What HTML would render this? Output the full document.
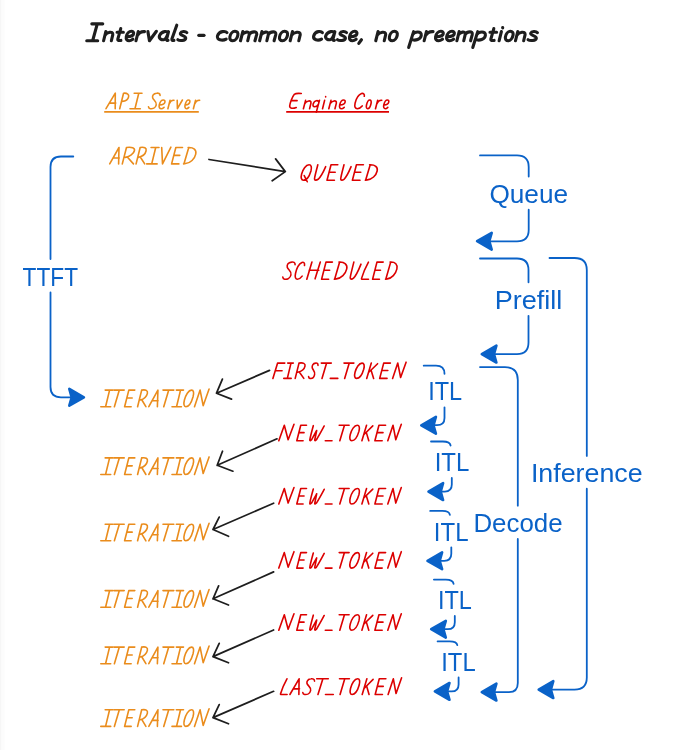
<!DOCTYPE html>
<html><head><meta charset="utf-8"><style>html,body{margin:0;padding:0;background:#fff;}svg{display:block}</style></head>
<body><svg width="679" height="750" viewBox="0 0 679 750" style="will-change:transform">
<rect width="679" height="750" fill="#fff"/>
<rect x="0" y="0" width="1.5" height="750" fill="#f6f6f6"/><rect x="1.5" y="0" width="3" height="750" fill="#fcfcfc"/>
<text transform="matrix(0.22708 0 0 0.26232 22.55 285.80)" font-family="Liberation Sans, sans-serif" font-weight="normal" font-style="normal" font-size="100" fill="#0a62c8">TTFT</text>
<text transform="matrix(0.26220 0 0 0.26522 489.39 202.90)" font-family="Liberation Sans, sans-serif" font-weight="normal" font-style="normal" font-size="100" fill="#0a62c8">Queue</text>
<text transform="matrix(0.27064 0 0 0.26087 494.63 308.60)" font-family="Liberation Sans, sans-serif" font-weight="normal" font-style="normal" font-size="100" fill="#0a62c8">Prefill</text>
<text transform="matrix(0.23485 0 0 0.25507 428.19 400.10)" font-family="Liberation Sans, sans-serif" font-weight="normal" font-style="normal" font-size="100" fill="#0a62c8">ITL</text>
<text transform="matrix(0.24015 0 0 0.25942 434.64 471.20)" font-family="Liberation Sans, sans-serif" font-weight="normal" font-style="normal" font-size="100" fill="#0a62c8">ITL</text>
<text transform="matrix(0.24015 0 0 0.26087 433.84 540.70)" font-family="Liberation Sans, sans-serif" font-weight="normal" font-style="normal" font-size="100" fill="#0a62c8">ITL</text>
<text transform="matrix(0.23485 0 0 0.25797 437.89 609.00)" font-family="Liberation Sans, sans-serif" font-weight="normal" font-style="normal" font-size="100" fill="#0a62c8">ITL</text>
<text transform="matrix(0.23788 0 0 0.26232 441.26 670.80)" font-family="Liberation Sans, sans-serif" font-weight="normal" font-style="normal" font-size="100" fill="#0a62c8">ITL</text>
<text transform="matrix(0.25873 0 0 0.25797 473.43 532.10)" font-family="Liberation Sans, sans-serif" font-weight="normal" font-style="normal" font-size="100" fill="#0a62c8">Decode</text>
<text transform="matrix(0.26799 0 0 0.26667 530.89 482.20)" font-family="Liberation Sans, sans-serif" font-weight="normal" font-style="normal" font-size="100" fill="#0a62c8">Inference</text>
<g transform="matrix(0.21042 0 -0.03382 0.16909 86.75 40.75)" fill="none" stroke="#1e1e1e" stroke-width="3.1" stroke-linecap="round" stroke-linejoin="round"><path transform="translate(0 0)" d="M8 -100 H60 M34 -100 L28 0 M0 0 H52" vector-effect="non-scaling-stroke"/><path transform="translate(80 0)" d="M2 -54 L0 0 M1 -32 C8 -50 36 -60 38 -36 L37 0" vector-effect="non-scaling-stroke"/><path transform="translate(136 0)" d="M14 -72 L10 -8 C10 -2 16 0 26 -2 M0 -50 H30" vector-effect="non-scaling-stroke"/><path transform="translate(184 0)" d="M3.2 -24 C16 -24 32 -30 32 -42 C32 -52 25.6 -56 19.2 -56 C8 -56 0 -42 0 -24 C0 -8 8 0 17.6 0 C24 0 28.8 -4 33.6 -9" vector-effect="non-scaling-stroke"/><path transform="translate(234 0)" d="M2 -54 L0 0 M1 -30 C6 -46 16 -56 32 -54" vector-effect="non-scaling-stroke"/><path transform="translate(282 0)" d="M0 -54 L16 0 L40 -56" vector-effect="non-scaling-stroke"/><path transform="translate(338 0)" d="M42 -46 C36 -58 10 -60 3 -32 C0 -10 20 -2 30 -8 C38 -14 40 -30 42 -54 L40 -10 C40 -2 44 0 48 -2" vector-effect="non-scaling-stroke"/><path transform="translate(400 0)" d="M13 -92 L3 -10 C3 -2 8 0 14 -2" vector-effect="non-scaling-stroke"/><path transform="translate(432 0)" d="M36 -48 C28 -58 8 -58 6 -44 C5 -30 36 -30 36 -14 C36 0 10 2 0 -6" vector-effect="non-scaling-stroke"/></g>
<g transform="matrix(0.20385 0 -0.03382 0.16909 197.67 40.75)" fill="none" stroke="#1e1e1e" stroke-width="3.1" stroke-linecap="round" stroke-linejoin="round"><path transform="translate(0 0)" d="M0 -32 H26" vector-effect="non-scaling-stroke"/></g>
<g transform="matrix(0.23311 0 -0.03382 0.16909 216.04 40.75)" fill="none" stroke="#1e1e1e" stroke-width="3.1" stroke-linecap="round" stroke-linejoin="round"><path transform="translate(0 0)" d="M40 -48 C33 -58 5 -60 2 -30 C0 -5 28 2 42 -10" vector-effect="non-scaling-stroke"/><path transform="translate(56 0)" d="M17.2 -56 C6.2 -56 0 -40 0 -24 C0 -8 7.8 0 15.6 0 C26.5 0 32.8 -16 32.8 -32 C32.8 -48 26.5 -56 17.2 -56 Z" vector-effect="non-scaling-stroke"/><path transform="translate(105 0)" d="M2 -54 L0 0 M1 -34 C6 -52 30 -60 32 -38 L31 0 M32 -38 C38 -56 64 -60 64 -36 L62 0" vector-effect="non-scaling-stroke"/><path transform="translate(187 0)" d="M2 -54 L0 0 M1 -34 C6 -52 30 -60 32 -38 L31 0 M32 -38 C38 -56 64 -60 64 -36 L62 0" vector-effect="non-scaling-stroke"/><path transform="translate(269 0)" d="M17.2 -56 C6.2 -56 0 -40 0 -24 C0 -8 7.8 0 15.6 0 C26.5 0 32.8 -16 32.8 -32 C32.8 -48 26.5 -56 17.2 -56 Z" vector-effect="non-scaling-stroke"/><path transform="translate(318 0)" d="M2 -54 L0 0 M1 -32 C8 -50 36 -60 38 -36 L37 0" vector-effect="non-scaling-stroke"/></g>
<g transform="matrix(0.21192 0 -0.03382 0.16909 312.29 40.75)" fill="none" stroke="#1e1e1e" stroke-width="3.1" stroke-linecap="round" stroke-linejoin="round"><path transform="translate(0 0)" d="M40 -48 C33 -58 5 -60 2 -30 C0 -5 28 2 42 -10" vector-effect="non-scaling-stroke"/><path transform="translate(56 0)" d="M42 -46 C36 -58 10 -60 3 -32 C0 -10 20 -2 30 -8 C38 -14 40 -30 42 -54 L40 -10 C40 -2 44 0 48 -2" vector-effect="non-scaling-stroke"/><path transform="translate(118 0)" d="M36 -48 C28 -58 8 -58 6 -44 C5 -30 36 -30 36 -14 C36 0 10 2 0 -6" vector-effect="non-scaling-stroke"/><path transform="translate(172 0)" d="M3.2 -24 C16 -24 32 -30 32 -42 C32 -52 25.6 -56 19.2 -56 C8 -56 0 -42 0 -24 C0 -8 8 0 17.6 0 C24 0 28.8 -4 33.6 -9" vector-effect="non-scaling-stroke"/><path transform="translate(222 0)" d="M9 -6 L0 16" vector-effect="non-scaling-stroke"/></g>
<g transform="matrix(0.22959 0 -0.03382 0.16909 375.75 40.75)" fill="none" stroke="#1e1e1e" stroke-width="3.1" stroke-linecap="round" stroke-linejoin="round"><path transform="translate(0 0)" d="M2 -54 L0 0 M1 -32 C8 -50 36 -60 38 -36 L37 0" vector-effect="non-scaling-stroke"/><path transform="translate(56 0)" d="M17.2 -56 C6.2 -56 0 -40 0 -24 C0 -8 7.8 0 15.6 0 C26.5 0 32.8 -16 32.8 -32 C32.8 -48 26.5 -56 17.2 -56 Z" vector-effect="non-scaling-stroke"/></g>
<g transform="matrix(0.22113 0 -0.03382 0.16909 410.89 40.75)" fill="none" stroke="#1e1e1e" stroke-width="3.1" stroke-linecap="round" stroke-linejoin="round"><path transform="translate(0 0)" d="M4 -54 L-4 40 M2 -36 C8 -56 40 -60 42 -32 C44 -8 20 2 0 -8" vector-effect="non-scaling-stroke"/><path transform="translate(60 0)" d="M2 -54 L0 0 M1 -30 C6 -46 16 -56 32 -54" vector-effect="non-scaling-stroke"/><path transform="translate(108 0)" d="M3.2 -24 C16 -24 32 -30 32 -42 C32 -52 25.6 -56 19.2 -56 C8 -56 0 -42 0 -24 C0 -8 8 0 17.6 0 C24 0 28.8 -4 33.6 -9" vector-effect="non-scaling-stroke"/><path transform="translate(158 0)" d="M3.2 -24 C16 -24 32 -30 32 -42 C32 -52 25.6 -56 19.2 -56 C8 -56 0 -42 0 -24 C0 -8 8 0 17.6 0 C24 0 28.8 -4 33.6 -9" vector-effect="non-scaling-stroke"/><path transform="translate(208 0)" d="M2 -54 L0 0 M1 -34 C6 -52 30 -60 32 -38 L31 0 M32 -38 C38 -56 64 -60 64 -36 L62 0" vector-effect="non-scaling-stroke"/><path transform="translate(290 0)" d="M4 -54 L-4 40 M2 -36 C8 -56 40 -60 42 -32 C44 -8 20 2 0 -8" vector-effect="non-scaling-stroke"/><path transform="translate(350 0)" d="M14 -72 L10 -8 C10 -2 16 0 26 -2 M0 -50 H30" vector-effect="non-scaling-stroke"/><path transform="translate(398 0)" d="M3 -54 L1 0 M5 -78 L5.5 -76" vector-effect="non-scaling-stroke"/><path transform="translate(424 0)" d="M17.2 -56 C6.2 -56 0 -40 0 -24 C0 -8 7.8 0 15.6 0 C26.5 0 32.8 -16 32.8 -32 C32.8 -48 26.5 -56 17.2 -56 Z" vector-effect="non-scaling-stroke"/><path transform="translate(473 0)" d="M2 -54 L0 0 M1 -32 C8 -50 36 -60 38 -36 L37 0" vector-effect="non-scaling-stroke"/><path transform="translate(529 0)" d="M36 -48 C28 -58 8 -58 6 -44 C5 -30 36 -30 36 -14 C36 0 10 2 0 -6" vector-effect="non-scaling-stroke"/></g>
<g fill="none" stroke="#ea8c1c" stroke-width="1.6" stroke-linecap="round" stroke-linejoin="round"><path transform="matrix(0.15875 0 -0.03410 0.15500 106.00 108.70)" d="M0 0 L37 -100 L58 0 M14 -36 H54" vector-effect="non-scaling-stroke"/><path transform="matrix(0.14344 0 -0.03410 0.15500 119.70 108.70)" d="M3 -100 L0 0 M3 -100 C30 -102 44 -92 44 -76 C44 -58 25 -48 6 -47" vector-effect="non-scaling-stroke"/><path transform="matrix(0.17044 0 -0.03410 0.15500 130.00 108.70)" d="M4.5 -100 H50.4 M31.4 -100 L29.1 0 M0 0 H60.5" vector-effect="non-scaling-stroke"/><path transform="matrix(0.18221 0 -0.03410 0.15500 148.09 108.70)" d="M50 -85 C48 -98 38 -102 28 -100 C12 -98 6 -85 12 -70 C18 -55 40 -48 40 -25 C40 -5 25 2 12 0 C6 -1 2 -6 0 -12" vector-effect="non-scaling-stroke"/><path transform="matrix(0.15813 0 -0.03410 0.15500 158.43 108.70)" d="M3.2 -24 C16 -24 32 -30 32 -42 C32 -52 25.6 -56 19.2 -56 C8 -56 0 -42 0 -24 C0 -8 8 0 17.6 0 C24 0 28.8 -4 33.6 -9" vector-effect="non-scaling-stroke"/><path transform="matrix(0.12996 0 -0.03410 0.15500 167.90 108.70)" d="M2 -54 L0 0 M1 -30 C6 -46 16 -56 32 -54" vector-effect="non-scaling-stroke"/><path transform="matrix(0.12829 0 -0.03410 0.15500 175.36 108.70)" d="M0 -54 L16 0 L40 -56" vector-effect="non-scaling-stroke"/><path transform="matrix(0.12875 0 -0.03410 0.15500 184.26 108.70)" d="M3.2 -24 C16 -24 32 -30 32 -42 C32 -52 25.6 -56 19.2 -56 C8 -56 0 -42 0 -24 C0 -8 8 0 17.6 0 C24 0 28.8 -4 33.6 -9" vector-effect="non-scaling-stroke"/><path transform="matrix(0.13621 0 -0.03410 0.15500 193.40 108.70)" d="M2 -54 L0 0 M1 -30 C6 -46 16 -56 32 -54" vector-effect="non-scaling-stroke"/></g>
<g fill="none" stroke="#dc0000" stroke-width="1.6" stroke-linecap="round" stroke-linejoin="round"><path transform="matrix(0.16418 0 -0.03410 0.15500 288.76 108.70)" d="M56 -98 C40 -100 22 -100 14 -92 C4 -75 0 -35 2 -18 C4 -2 25 2 44 -8 M8 -52 H40" vector-effect="non-scaling-stroke"/><path transform="matrix(0.16684 0 -0.03410 0.15500 303.40 108.70)" d="M2 -54 L0 0 M1 -32 C8 -50 36 -60 38 -36 L37 0" vector-effect="non-scaling-stroke"/><path transform="matrix(0.14510 0 -0.03410 0.15500 311.85 108.70)" d="M38 -42 C32 -56 4 -58 2 -30 C0 -8 28 -6 38 -28 M40 -54 L36 22" vector-effect="non-scaling-stroke"/><path transform="matrix(0.11625 0 -0.03410 0.15500 322.42 108.70)" d="M3 -54 L1 0 M5 -78 L5.5 -76" vector-effect="non-scaling-stroke"/><path transform="matrix(0.16684 0 -0.03410 0.15500 328.80 108.70)" d="M2 -54 L0 0 M1 -32 C8 -50 36 -60 38 -36 L37 0" vector-effect="non-scaling-stroke"/><path transform="matrix(0.15162 0 -0.03410 0.15500 338.84 108.70)" d="M3.2 -24 C16 -24 32 -30 32 -42 C32 -52 25.6 -56 19.2 -56 C8 -56 0 -42 0 -24 C0 -8 8 0 17.6 0 C24 0 28.8 -4 33.6 -9" vector-effect="non-scaling-stroke"/><path transform="matrix(0.15389 0 -0.03410 0.15500 353.88 108.70)" d="M50 -80 C50 -95 38 -102 28 -98 C10 -90 0 -60 0 -35 C0 -10 10 0 22 0 C35 0 44 -8 50 -18" vector-effect="non-scaling-stroke"/><path transform="matrix(0.12895 0 -0.03410 0.15500 365.67 108.70)" d="M17.2 -56 C6.2 -56 0 -40 0 -24 C0 -8 7.8 0 15.6 0 C26.5 0 32.8 -16 32.8 -32 C32.8 -48 26.5 -56 17.2 -56 Z" vector-effect="non-scaling-stroke"/><path transform="matrix(0.13621 0 -0.03410 0.15500 375.50 108.70)" d="M2 -54 L0 0 M1 -30 C6 -46 16 -56 32 -54" vector-effect="non-scaling-stroke"/><path transform="matrix(0.13532 0 -0.03410 0.15500 382.95 108.70)" d="M3.2 -24 C16 -24 32 -30 32 -42 C32 -52 25.6 -56 19.2 -56 C8 -56 0 -42 0 -24 C0 -8 8 0 17.6 0 C24 0 28.8 -4 33.6 -9" vector-effect="non-scaling-stroke"/></g>
<g fill="none" stroke="#ea8c1c" stroke-width="1.6" stroke-linecap="round" stroke-linejoin="round"><path transform="matrix(0.15372 0 -0.03608 0.16400 109.70 163.90)" d="M0 0 L37 -100 L58 0 M14 -36 H54" vector-effect="non-scaling-stroke"/><path transform="matrix(0.19237 0 -0.03608 0.16400 122.30 163.90)" d="M3 -100 L0 0 M3 -100 C30 -104 48 -98 48 -80 C48 -62 30 -45 8 -40 M18 -42 L58 0" vector-effect="non-scaling-stroke"/><path transform="matrix(0.14813 0 -0.03608 0.16400 136.10 163.90)" d="M3 -100 L0 0 M3 -100 C30 -104 48 -98 48 -80 C48 -62 30 -45 8 -40 M18 -42 L58 0" vector-effect="non-scaling-stroke"/><path transform="matrix(0.17246 0 -0.03608 0.16400 146.70 163.90)" d="M4.5 -100 H50.4 M31.4 -100 L29.1 0 M0 0 H60.5" vector-effect="non-scaling-stroke"/><path transform="matrix(0.16300 0 -0.03608 0.16400 158.09 163.90)" d="M0 -100 L27.2 0 L56 -102" vector-effect="non-scaling-stroke"/><path transform="matrix(0.15852 0 -0.03608 0.16400 171.28 163.90)" d="M48 -100 H6 L2 0 H48 M4 -52 H42" vector-effect="non-scaling-stroke"/><path transform="matrix(0.15586 0 -0.03608 0.16400 183.91 163.90)" d="M8 -100 L0 0 M4 -100 C40 -102 62 -85 62 -60 C62 -30 40 -5 10 -2 L-2 0" vector-effect="non-scaling-stroke"/></g>
<g fill="none" stroke="#dc0000" stroke-width="1.6" stroke-linecap="round" stroke-linejoin="round"><path transform="matrix(0.16259 0 -0.03388 0.15400 300.12 180.20)" d="M34 -100 C14 -100 2 -70 1 -40 C0 -15 8 0 20 0 C40 0 52 -30 54 -60 C55 -85 48 -100 34 -100 Z M19 -30 L46 10" vector-effect="non-scaling-stroke"/><path transform="matrix(0.18456 0 -0.03388 0.15400 313.86 180.20)" d="M3 -100 C2 -60 0 -25 2 -8 C4 2 14 2 22 -6 C34 -20 42 -55 48 -88" vector-effect="non-scaling-stroke"/><path transform="matrix(0.16113 0 -0.03388 0.15400 326.68 180.20)" d="M48 -100 H6 L2 0 H48 M4 -52 H42" vector-effect="non-scaling-stroke"/><path transform="matrix(0.16717 0 -0.03388 0.15400 340.09 180.20)" d="M3 -100 C2 -60 0 -25 2 -8 C4 2 14 2 22 -6 C34 -20 42 -55 48 -88" vector-effect="non-scaling-stroke"/><path transform="matrix(0.16548 0 -0.03388 0.15400 352.07 180.20)" d="M48 -100 H6 L2 0 H48 M4 -52 H42" vector-effect="non-scaling-stroke"/><path transform="matrix(0.15346 0 -0.03388 0.15400 365.61 180.20)" d="M8 -100 L0 0 M4 -100 C40 -102 62 -85 62 -60 C62 -30 40 -5 10 -2 L-2 0" vector-effect="non-scaling-stroke"/></g>
<g fill="none" stroke="#dc0000" stroke-width="1.6" stroke-linecap="round" stroke-linejoin="round"><path transform="matrix(0.19103 0 -0.03762 0.17100 282.35 279.20)" d="M50 -85 C48 -98 38 -102 28 -100 C12 -98 6 -85 12 -70 C18 -55 40 -48 40 -25 C40 -5 25 2 12 0 C6 -1 2 -6 0 -12" vector-effect="non-scaling-stroke"/><path transform="matrix(0.14470 0 -0.03762 0.17100 294.23 279.20)" d="M50 -80 C50 -95 38 -102 28 -98 C10 -90 0 -60 0 -35 C0 -10 10 0 22 0 C35 0 44 -8 50 -18" vector-effect="non-scaling-stroke"/><path transform="matrix(0.15216 0 -0.03762 0.17100 306.80 279.20)" d="M9 -100 L0 0 M64 -100 L54 -2 M2 -52 H66" vector-effect="non-scaling-stroke"/><path transform="matrix(0.15300 0 -0.03762 0.17100 321.29 279.20)" d="M48 -100 H6 L2 0 H48 M4 -52 H42" vector-effect="non-scaling-stroke"/><path transform="matrix(0.15895 0 -0.03762 0.17100 334.62 279.20)" d="M8 -100 L0 0 M4 -100 C40 -102 62 -85 62 -60 C62 -30 40 -5 10 -2 L-2 0" vector-effect="non-scaling-stroke"/><path transform="matrix(0.16936 0 -0.03762 0.17100 349.56 279.20)" d="M3 -100 C2 -60 0 -25 2 -8 C4 2 14 2 22 -6 C34 -20 42 -55 48 -88" vector-effect="non-scaling-stroke"/><path transform="matrix(0.16596 0 -0.03762 0.17100 361.36 279.20)" d="M20 -100 C10 -70 2 -35 0 -5 C0 0 2 0 6 0 H43" vector-effect="non-scaling-stroke"/><path transform="matrix(0.14865 0 -0.03762 0.17100 372.30 279.20)" d="M48 -100 H6 L2 0 H48 M4 -52 H42" vector-effect="non-scaling-stroke"/><path transform="matrix(0.14296 0 -0.03762 0.17100 385.79 279.20)" d="M8 -100 L0 0 M4 -100 C40 -102 62 -85 62 -60 C62 -30 40 -5 10 -2 L-2 0" vector-effect="non-scaling-stroke"/></g>
<g fill="none" stroke="#dc0000" stroke-width="1.6" stroke-linecap="round" stroke-linejoin="round"><path transform="matrix(0.14972 0 -0.03366 0.15300 272.90 378.40)" d="M9 -100 H57 M9 -100 L0 0 M5 -50 H50" vector-effect="non-scaling-stroke"/><path transform="matrix(0.12171 0 -0.03366 0.15300 283.80 378.40)" d="M4.5 -100 H50.4 M31.4 -100 L29.1 0 M0 0 H60.5" vector-effect="non-scaling-stroke"/><path transform="matrix(0.14825 0 -0.03366 0.15300 295.20 378.40)" d="M3 -100 L0 0 M3 -100 C30 -104 48 -98 48 -80 C48 -62 30 -45 8 -40 M18 -42 L58 0" vector-effect="non-scaling-stroke"/><path transform="matrix(0.13858 0 -0.03366 0.15300 308.20 378.40)" d="M50 -85 C48 -98 38 -102 28 -100 C12 -98 6 -85 12 -70 C18 -55 40 -48 40 -25 C40 -5 25 2 12 0 C6 -1 2 -6 0 -12" vector-effect="non-scaling-stroke"/><path transform="matrix(0.15625 0 -0.03366 0.15300 317.93 378.40)" d="M0 -100 H64 M34 -100 L26 0" vector-effect="non-scaling-stroke"/><path transform="matrix(0.17857 0 -0.03366 0.15300 330.30 378.40)" d="M0 0 H42" vector-effect="non-scaling-stroke"/><path transform="matrix(0.15469 0 -0.03366 0.15300 340.63 378.40)" d="M0 -100 H64 M34 -100 L26 0" vector-effect="non-scaling-stroke"/><path transform="matrix(0.15094 0 -0.03366 0.15300 353.55 378.40)" d="M34 -100 C14 -100 2 -70 1 -40 C0 -15 8 0 20 0 C40 0 52 -30 54 -60 C55 -85 48 -100 34 -100 Z" vector-effect="non-scaling-stroke"/><path transform="matrix(0.15096 0 -0.03366 0.15300 366.70 378.40)" d="M8.2 -100 L0 0 M50.8 -96 L4.9 -40 M18 -52 L45.9 0" vector-effect="non-scaling-stroke"/><path transform="matrix(0.15943 0 -0.03366 0.15300 379.38 378.40)" d="M48 -100 H6 L2 0 H48 M4 -52 H42" vector-effect="non-scaling-stroke"/><path transform="matrix(0.15049 0 -0.03366 0.15300 392.60 378.40)" d="M0 0 L12 -100 L52 -6 L66 -106" vector-effect="non-scaling-stroke"/></g>
<g fill="none" stroke="#ea8c1c" stroke-width="1.6" stroke-linecap="round" stroke-linejoin="round"><path transform="matrix(0.16365 0 -0.03652 0.16600 100.80 406.70)" d="M4.5 -100 H50.4 M31.4 -100 L29.1 0 M0 0 H60.5" vector-effect="non-scaling-stroke"/><path transform="matrix(0.16250 0 -0.03652 0.16600 110.15 406.70)" d="M0 -100 H64 M34 -100 L26 0" vector-effect="non-scaling-stroke"/><path transform="matrix(0.14235 0 -0.03652 0.16600 124.32 406.70)" d="M48 -100 H6 L2 0 H48 M4 -52 H42" vector-effect="non-scaling-stroke"/><path transform="matrix(0.14313 0 -0.03652 0.16600 137.60 406.70)" d="M3 -100 L0 0 M3 -100 C30 -104 48 -98 48 -80 C48 -62 30 -45 8 -40 M18 -42 L58 0" vector-effect="non-scaling-stroke"/><path transform="matrix(0.14788 0 -0.03652 0.16600 148.80 406.70)" d="M0 0 L37 -100 L58 0 M14 -36 H54" vector-effect="non-scaling-stroke"/><path transform="matrix(0.16875 0 -0.03652 0.16600 159.35 406.70)" d="M0 -100 H64 M34 -100 L26 0" vector-effect="non-scaling-stroke"/><path transform="matrix(0.15571 0 -0.03652 0.16600 172.00 406.70)" d="M4.5 -100 H50.4 M31.4 -100 L29.1 0 M0 0 H60.5" vector-effect="non-scaling-stroke"/><path transform="matrix(0.14939 0 -0.03652 0.16600 182.80 406.70)" d="M34 -100 C14 -100 2 -70 1 -40 C0 -15 8 0 20 0 C40 0 52 -30 54 -60 C55 -85 48 -100 34 -100 Z" vector-effect="non-scaling-stroke"/><path transform="matrix(0.16256 0 -0.03652 0.16600 194.50 406.70)" d="M0 0 L12 -100 L52 -6 L66 -106" vector-effect="non-scaling-stroke"/></g>
<g fill="none" stroke="#ea8c1c" stroke-width="1.6" stroke-linecap="round" stroke-linejoin="round"><path transform="matrix(0.16365 0 -0.03652 0.16600 100.80 474.50)" d="M4.5 -100 H50.4 M31.4 -100 L29.1 0 M0 0 H60.5" vector-effect="non-scaling-stroke"/><path transform="matrix(0.16250 0 -0.03652 0.16600 110.15 474.50)" d="M0 -100 H64 M34 -100 L26 0" vector-effect="non-scaling-stroke"/><path transform="matrix(0.14235 0 -0.03652 0.16600 124.32 474.50)" d="M48 -100 H6 L2 0 H48 M4 -52 H42" vector-effect="non-scaling-stroke"/><path transform="matrix(0.14313 0 -0.03652 0.16600 137.60 474.50)" d="M3 -100 L0 0 M3 -100 C30 -104 48 -98 48 -80 C48 -62 30 -45 8 -40 M18 -42 L58 0" vector-effect="non-scaling-stroke"/><path transform="matrix(0.14788 0 -0.03652 0.16600 148.80 474.50)" d="M0 0 L37 -100 L58 0 M14 -36 H54" vector-effect="non-scaling-stroke"/><path transform="matrix(0.16875 0 -0.03652 0.16600 159.35 474.50)" d="M0 -100 H64 M34 -100 L26 0" vector-effect="non-scaling-stroke"/><path transform="matrix(0.15571 0 -0.03652 0.16600 172.00 474.50)" d="M4.5 -100 H50.4 M31.4 -100 L29.1 0 M0 0 H60.5" vector-effect="non-scaling-stroke"/><path transform="matrix(0.14939 0 -0.03652 0.16600 182.80 474.50)" d="M34 -100 C14 -100 2 -70 1 -40 C0 -15 8 0 20 0 C40 0 52 -30 54 -60 C55 -85 48 -100 34 -100 Z" vector-effect="non-scaling-stroke"/><path transform="matrix(0.16256 0 -0.03652 0.16600 194.50 474.50)" d="M0 0 L12 -100 L52 -6 L66 -106" vector-effect="non-scaling-stroke"/></g>
<g fill="none" stroke="#ea8c1c" stroke-width="1.6" stroke-linecap="round" stroke-linejoin="round"><path transform="matrix(0.16365 0 -0.03652 0.16600 100.80 540.80)" d="M4.5 -100 H50.4 M31.4 -100 L29.1 0 M0 0 H60.5" vector-effect="non-scaling-stroke"/><path transform="matrix(0.16250 0 -0.03652 0.16600 110.15 540.80)" d="M0 -100 H64 M34 -100 L26 0" vector-effect="non-scaling-stroke"/><path transform="matrix(0.14235 0 -0.03652 0.16600 124.32 540.80)" d="M48 -100 H6 L2 0 H48 M4 -52 H42" vector-effect="non-scaling-stroke"/><path transform="matrix(0.14313 0 -0.03652 0.16600 137.60 540.80)" d="M3 -100 L0 0 M3 -100 C30 -104 48 -98 48 -80 C48 -62 30 -45 8 -40 M18 -42 L58 0" vector-effect="non-scaling-stroke"/><path transform="matrix(0.14788 0 -0.03652 0.16600 148.80 540.80)" d="M0 0 L37 -100 L58 0 M14 -36 H54" vector-effect="non-scaling-stroke"/><path transform="matrix(0.16875 0 -0.03652 0.16600 159.35 540.80)" d="M0 -100 H64 M34 -100 L26 0" vector-effect="non-scaling-stroke"/><path transform="matrix(0.15571 0 -0.03652 0.16600 172.00 540.80)" d="M4.5 -100 H50.4 M31.4 -100 L29.1 0 M0 0 H60.5" vector-effect="non-scaling-stroke"/><path transform="matrix(0.14939 0 -0.03652 0.16600 182.80 540.80)" d="M34 -100 C14 -100 2 -70 1 -40 C0 -15 8 0 20 0 C40 0 52 -30 54 -60 C55 -85 48 -100 34 -100 Z" vector-effect="non-scaling-stroke"/><path transform="matrix(0.16256 0 -0.03652 0.16600 194.50 540.80)" d="M0 0 L12 -100 L52 -6 L66 -106" vector-effect="non-scaling-stroke"/></g>
<g fill="none" stroke="#ea8c1c" stroke-width="1.6" stroke-linecap="round" stroke-linejoin="round"><path transform="matrix(0.16365 0 -0.03652 0.16600 100.80 607.20)" d="M4.5 -100 H50.4 M31.4 -100 L29.1 0 M0 0 H60.5" vector-effect="non-scaling-stroke"/><path transform="matrix(0.16250 0 -0.03652 0.16600 110.15 607.20)" d="M0 -100 H64 M34 -100 L26 0" vector-effect="non-scaling-stroke"/><path transform="matrix(0.14235 0 -0.03652 0.16600 124.32 607.20)" d="M48 -100 H6 L2 0 H48 M4 -52 H42" vector-effect="non-scaling-stroke"/><path transform="matrix(0.14313 0 -0.03652 0.16600 137.60 607.20)" d="M3 -100 L0 0 M3 -100 C30 -104 48 -98 48 -80 C48 -62 30 -45 8 -40 M18 -42 L58 0" vector-effect="non-scaling-stroke"/><path transform="matrix(0.14788 0 -0.03652 0.16600 148.80 607.20)" d="M0 0 L37 -100 L58 0 M14 -36 H54" vector-effect="non-scaling-stroke"/><path transform="matrix(0.16875 0 -0.03652 0.16600 159.35 607.20)" d="M0 -100 H64 M34 -100 L26 0" vector-effect="non-scaling-stroke"/><path transform="matrix(0.15571 0 -0.03652 0.16600 172.00 607.20)" d="M4.5 -100 H50.4 M31.4 -100 L29.1 0 M0 0 H60.5" vector-effect="non-scaling-stroke"/><path transform="matrix(0.14939 0 -0.03652 0.16600 182.80 607.20)" d="M34 -100 C14 -100 2 -70 1 -40 C0 -15 8 0 20 0 C40 0 52 -30 54 -60 C55 -85 48 -100 34 -100 Z" vector-effect="non-scaling-stroke"/><path transform="matrix(0.16256 0 -0.03652 0.16600 194.50 607.20)" d="M0 0 L12 -100 L52 -6 L66 -106" vector-effect="non-scaling-stroke"/></g>
<g fill="none" stroke="#ea8c1c" stroke-width="1.6" stroke-linecap="round" stroke-linejoin="round"><path transform="matrix(0.16365 0 -0.03652 0.16600 100.80 663.70)" d="M4.5 -100 H50.4 M31.4 -100 L29.1 0 M0 0 H60.5" vector-effect="non-scaling-stroke"/><path transform="matrix(0.16250 0 -0.03652 0.16600 110.15 663.70)" d="M0 -100 H64 M34 -100 L26 0" vector-effect="non-scaling-stroke"/><path transform="matrix(0.14235 0 -0.03652 0.16600 124.32 663.70)" d="M48 -100 H6 L2 0 H48 M4 -52 H42" vector-effect="non-scaling-stroke"/><path transform="matrix(0.14313 0 -0.03652 0.16600 137.60 663.70)" d="M3 -100 L0 0 M3 -100 C30 -104 48 -98 48 -80 C48 -62 30 -45 8 -40 M18 -42 L58 0" vector-effect="non-scaling-stroke"/><path transform="matrix(0.14788 0 -0.03652 0.16600 148.80 663.70)" d="M0 0 L37 -100 L58 0 M14 -36 H54" vector-effect="non-scaling-stroke"/><path transform="matrix(0.16875 0 -0.03652 0.16600 159.35 663.70)" d="M0 -100 H64 M34 -100 L26 0" vector-effect="non-scaling-stroke"/><path transform="matrix(0.15571 0 -0.03652 0.16600 172.00 663.70)" d="M4.5 -100 H50.4 M31.4 -100 L29.1 0 M0 0 H60.5" vector-effect="non-scaling-stroke"/><path transform="matrix(0.14939 0 -0.03652 0.16600 182.80 663.70)" d="M34 -100 C14 -100 2 -70 1 -40 C0 -15 8 0 20 0 C40 0 52 -30 54 -60 C55 -85 48 -100 34 -100 Z" vector-effect="non-scaling-stroke"/><path transform="matrix(0.16256 0 -0.03652 0.16600 194.50 663.70)" d="M0 0 L12 -100 L52 -6 L66 -106" vector-effect="non-scaling-stroke"/></g>
<g fill="none" stroke="#ea8c1c" stroke-width="1.6" stroke-linecap="round" stroke-linejoin="round"><path transform="matrix(0.16365 0 -0.03652 0.16600 100.80 726.40)" d="M4.5 -100 H50.4 M31.4 -100 L29.1 0 M0 0 H60.5" vector-effect="non-scaling-stroke"/><path transform="matrix(0.16250 0 -0.03652 0.16600 110.15 726.40)" d="M0 -100 H64 M34 -100 L26 0" vector-effect="non-scaling-stroke"/><path transform="matrix(0.14235 0 -0.03652 0.16600 124.32 726.40)" d="M48 -100 H6 L2 0 H48 M4 -52 H42" vector-effect="non-scaling-stroke"/><path transform="matrix(0.14313 0 -0.03652 0.16600 137.60 726.40)" d="M3 -100 L0 0 M3 -100 C30 -104 48 -98 48 -80 C48 -62 30 -45 8 -40 M18 -42 L58 0" vector-effect="non-scaling-stroke"/><path transform="matrix(0.14788 0 -0.03652 0.16600 148.80 726.40)" d="M0 0 L37 -100 L58 0 M14 -36 H54" vector-effect="non-scaling-stroke"/><path transform="matrix(0.16875 0 -0.03652 0.16600 159.35 726.40)" d="M0 -100 H64 M34 -100 L26 0" vector-effect="non-scaling-stroke"/><path transform="matrix(0.15571 0 -0.03652 0.16600 172.00 726.40)" d="M4.5 -100 H50.4 M31.4 -100 L29.1 0 M0 0 H60.5" vector-effect="non-scaling-stroke"/><path transform="matrix(0.14939 0 -0.03652 0.16600 182.80 726.40)" d="M34 -100 C14 -100 2 -70 1 -40 C0 -15 8 0 20 0 C40 0 52 -30 54 -60 C55 -85 48 -100 34 -100 Z" vector-effect="non-scaling-stroke"/><path transform="matrix(0.16256 0 -0.03652 0.16600 194.50 726.40)" d="M0 0 L12 -100 L52 -6 L66 -106" vector-effect="non-scaling-stroke"/></g>
<g fill="none" stroke="#dc0000" stroke-width="1.6" stroke-linecap="round" stroke-linejoin="round"><path transform="matrix(0.17554 0 -0.03410 0.15500 278.80 440.70)" d="M0 0 L12 -100 L52 -6 L66 -106" vector-effect="non-scaling-stroke"/><path transform="matrix(0.13674 0 -0.03410 0.15500 296.53 440.70)" d="M48 -100 H6 L2 0 H48 M4 -52 H42" vector-effect="non-scaling-stroke"/><path transform="matrix(0.16372 0 -0.03410 0.15500 309.34 440.70)" d="M4 -97 C2 -60 0 -20 2 -4 C3 2 8 1 12 -6 L31 -66 L32 -6 C33 2 38 1 42 -6 C55 -40 65 -75 71 -95" vector-effect="non-scaling-stroke"/><path transform="matrix(0.15952 0 -0.03410 0.15500 325.30 440.70)" d="M0 0 H42" vector-effect="non-scaling-stroke"/><path transform="matrix(0.15469 0 -0.03410 0.15500 335.79 440.70)" d="M0 -100 H64 M34 -100 L26 0" vector-effect="non-scaling-stroke"/><path transform="matrix(0.15042 0 -0.03410 0.15500 348.75 440.70)" d="M34 -100 C14 -100 2 -70 1 -40 C0 -15 8 0 20 0 C40 0 52 -30 54 -60 C55 -85 48 -100 34 -100 Z" vector-effect="non-scaling-stroke"/><path transform="matrix(0.15013 0 -0.03410 0.15500 361.90 440.70)" d="M8.2 -100 L0 0 M50.8 -96 L4.9 -40 M18 -52 L45.9 0" vector-effect="non-scaling-stroke"/><path transform="matrix(0.15848 0 -0.03410 0.15500 374.58 440.70)" d="M48 -100 H6 L2 0 H48 M4 -52 H42" vector-effect="non-scaling-stroke"/><path transform="matrix(0.14978 0 -0.03410 0.15500 387.80 440.70)" d="M0 0 L12 -100 L52 -6 L66 -106" vector-effect="non-scaling-stroke"/></g>
<g fill="none" stroke="#dc0000" stroke-width="1.6" stroke-linecap="round" stroke-linejoin="round"><path transform="matrix(0.17554 0 -0.03410 0.15500 278.80 504.00)" d="M0 0 L12 -100 L52 -6 L66 -106" vector-effect="non-scaling-stroke"/><path transform="matrix(0.13674 0 -0.03410 0.15500 296.53 504.00)" d="M48 -100 H6 L2 0 H48 M4 -52 H42" vector-effect="non-scaling-stroke"/><path transform="matrix(0.16372 0 -0.03410 0.15500 309.34 504.00)" d="M4 -97 C2 -60 0 -20 2 -4 C3 2 8 1 12 -6 L31 -66 L32 -6 C33 2 38 1 42 -6 C55 -40 65 -75 71 -95" vector-effect="non-scaling-stroke"/><path transform="matrix(0.15952 0 -0.03410 0.15500 325.30 504.00)" d="M0 0 H42" vector-effect="non-scaling-stroke"/><path transform="matrix(0.15469 0 -0.03410 0.15500 335.79 504.00)" d="M0 -100 H64 M34 -100 L26 0" vector-effect="non-scaling-stroke"/><path transform="matrix(0.15042 0 -0.03410 0.15500 348.75 504.00)" d="M34 -100 C14 -100 2 -70 1 -40 C0 -15 8 0 20 0 C40 0 52 -30 54 -60 C55 -85 48 -100 34 -100 Z" vector-effect="non-scaling-stroke"/><path transform="matrix(0.15013 0 -0.03410 0.15500 361.90 504.00)" d="M8.2 -100 L0 0 M50.8 -96 L4.9 -40 M18 -52 L45.9 0" vector-effect="non-scaling-stroke"/><path transform="matrix(0.15848 0 -0.03410 0.15500 374.58 504.00)" d="M48 -100 H6 L2 0 H48 M4 -52 H42" vector-effect="non-scaling-stroke"/><path transform="matrix(0.14978 0 -0.03410 0.15500 387.80 504.00)" d="M0 0 L12 -100 L52 -6 L66 -106" vector-effect="non-scaling-stroke"/></g>
<g fill="none" stroke="#dc0000" stroke-width="1.6" stroke-linecap="round" stroke-linejoin="round"><path transform="matrix(0.17554 0 -0.03410 0.15500 278.80 568.10)" d="M0 0 L12 -100 L52 -6 L66 -106" vector-effect="non-scaling-stroke"/><path transform="matrix(0.13674 0 -0.03410 0.15500 296.53 568.10)" d="M48 -100 H6 L2 0 H48 M4 -52 H42" vector-effect="non-scaling-stroke"/><path transform="matrix(0.16372 0 -0.03410 0.15500 309.34 568.10)" d="M4 -97 C2 -60 0 -20 2 -4 C3 2 8 1 12 -6 L31 -66 L32 -6 C33 2 38 1 42 -6 C55 -40 65 -75 71 -95" vector-effect="non-scaling-stroke"/><path transform="matrix(0.15952 0 -0.03410 0.15500 325.30 568.10)" d="M0 0 H42" vector-effect="non-scaling-stroke"/><path transform="matrix(0.15469 0 -0.03410 0.15500 335.79 568.10)" d="M0 -100 H64 M34 -100 L26 0" vector-effect="non-scaling-stroke"/><path transform="matrix(0.15042 0 -0.03410 0.15500 348.75 568.10)" d="M34 -100 C14 -100 2 -70 1 -40 C0 -15 8 0 20 0 C40 0 52 -30 54 -60 C55 -85 48 -100 34 -100 Z" vector-effect="non-scaling-stroke"/><path transform="matrix(0.15013 0 -0.03410 0.15500 361.90 568.10)" d="M8.2 -100 L0 0 M50.8 -96 L4.9 -40 M18 -52 L45.9 0" vector-effect="non-scaling-stroke"/><path transform="matrix(0.15848 0 -0.03410 0.15500 374.58 568.10)" d="M48 -100 H6 L2 0 H48 M4 -52 H42" vector-effect="non-scaling-stroke"/><path transform="matrix(0.14978 0 -0.03410 0.15500 387.80 568.10)" d="M0 0 L12 -100 L52 -6 L66 -106" vector-effect="non-scaling-stroke"/></g>
<g fill="none" stroke="#dc0000" stroke-width="1.6" stroke-linecap="round" stroke-linejoin="round"><path transform="matrix(0.17554 0 -0.03410 0.15500 278.80 630.20)" d="M0 0 L12 -100 L52 -6 L66 -106" vector-effect="non-scaling-stroke"/><path transform="matrix(0.13674 0 -0.03410 0.15500 296.53 630.20)" d="M48 -100 H6 L2 0 H48 M4 -52 H42" vector-effect="non-scaling-stroke"/><path transform="matrix(0.16372 0 -0.03410 0.15500 309.34 630.20)" d="M4 -97 C2 -60 0 -20 2 -4 C3 2 8 1 12 -6 L31 -66 L32 -6 C33 2 38 1 42 -6 C55 -40 65 -75 71 -95" vector-effect="non-scaling-stroke"/><path transform="matrix(0.15952 0 -0.03410 0.15500 325.30 630.20)" d="M0 0 H42" vector-effect="non-scaling-stroke"/><path transform="matrix(0.15469 0 -0.03410 0.15500 335.79 630.20)" d="M0 -100 H64 M34 -100 L26 0" vector-effect="non-scaling-stroke"/><path transform="matrix(0.15042 0 -0.03410 0.15500 348.75 630.20)" d="M34 -100 C14 -100 2 -70 1 -40 C0 -15 8 0 20 0 C40 0 52 -30 54 -60 C55 -85 48 -100 34 -100 Z" vector-effect="non-scaling-stroke"/><path transform="matrix(0.15013 0 -0.03410 0.15500 361.90 630.20)" d="M8.2 -100 L0 0 M50.8 -96 L4.9 -40 M18 -52 L45.9 0" vector-effect="non-scaling-stroke"/><path transform="matrix(0.15848 0 -0.03410 0.15500 374.58 630.20)" d="M48 -100 H6 L2 0 H48 M4 -52 H42" vector-effect="non-scaling-stroke"/><path transform="matrix(0.14978 0 -0.03410 0.15500 387.80 630.20)" d="M0 0 L12 -100 L52 -6 L66 -106" vector-effect="non-scaling-stroke"/></g>
<g fill="none" stroke="#dc0000" stroke-width="1.6" stroke-linecap="round" stroke-linejoin="round"><path transform="matrix(0.15642 0 -0.03454 0.15700 280.37 694.50)" d="M20 -100 C10 -70 2 -35 0 -5 C0 0 2 0 6 0 H43" vector-effect="non-scaling-stroke"/><path transform="matrix(0.15475 0 -0.03454 0.15700 289.90 694.50)" d="M0 0 L37 -100 L58 0 M14 -36 H54" vector-effect="non-scaling-stroke"/><path transform="matrix(0.18357 0 -0.03454 0.15700 302.39 694.50)" d="M50 -85 C48 -98 38 -102 28 -100 C12 -98 6 -85 12 -70 C18 -55 40 -48 40 -25 C40 -5 25 2 12 0 C6 -1 2 -6 0 -12" vector-effect="non-scaling-stroke"/><path transform="matrix(0.18125 0 -0.03454 0.15700 313.25 694.50)" d="M0 -100 H64 M34 -100 L26 0" vector-effect="non-scaling-stroke"/><path transform="matrix(0.18571 0 -0.03454 0.15700 325.50 694.50)" d="M0 0 H42" vector-effect="non-scaling-stroke"/><path transform="matrix(0.15469 0 -0.03454 0.15700 336.05 694.50)" d="M0 -100 H64 M34 -100 L26 0" vector-effect="non-scaling-stroke"/><path transform="matrix(0.14988 0 -0.03454 0.15700 349.04 694.50)" d="M34 -100 C14 -100 2 -70 1 -40 C0 -15 8 0 20 0 C40 0 52 -30 54 -60 C55 -85 48 -100 34 -100 Z" vector-effect="non-scaling-stroke"/><path transform="matrix(0.14929 0 -0.03454 0.15700 362.20 694.50)" d="M8.2 -100 L0 0 M50.8 -96 L4.9 -40 M18 -52 L45.9 0" vector-effect="non-scaling-stroke"/><path transform="matrix(0.15752 0 -0.03454 0.15700 374.88 694.50)" d="M48 -100 H6 L2 0 H48 M4 -52 H42" vector-effect="non-scaling-stroke"/><path transform="matrix(0.14907 0 -0.03454 0.15700 388.10 694.50)" d="M0 0 L12 -100 L52 -6 L66 -106" vector-effect="non-scaling-stroke"/></g>
<path d="M104.2 111.9 H198.8" stroke="#ea8c1c" stroke-width="1.9" fill="none"/>
<path d="M286.2 111.9 H389" stroke="#dc0000" stroke-width="1.9" fill="none"/>
<path d="M209 159.5 L285.3 171.6 M275.6 158.9 L285.3 171.6 L272.2 180.8" stroke="#1e1e1e" stroke-width="1.75" fill="none" stroke-linecap="round" stroke-linejoin="round"/>
<path d="M269.5 370.4 L216.5 393.2 M222.4 379.1 L216.5 393.2 L231.5 399.1" stroke="#1e1e1e" stroke-width="1.75" fill="none" stroke-linecap="round" stroke-linejoin="round"/>
<path d="M277 438.8 L217.2 465.3 M222.5 451.2 L217.2 465.3 L232.9 471.2" stroke="#1e1e1e" stroke-width="1.75" fill="none" stroke-linecap="round" stroke-linejoin="round"/>
<path d="M273.6 503.2 L213 529.5 M219.2 517.1 L213 529.5 L228.5 536.3" stroke="#1e1e1e" stroke-width="1.75" fill="none" stroke-linecap="round" stroke-linejoin="round"/>
<path d="M273.6 571.9 L213 598.8 M218.6 585.8 L213 598.8 L228.5 605" stroke="#1e1e1e" stroke-width="1.75" fill="none" stroke-linecap="round" stroke-linejoin="round"/>
<path d="M273.6 630 L213 656.6 M219.2 643.3 L213 656.6 L228.5 662.8" stroke="#1e1e1e" stroke-width="1.75" fill="none" stroke-linecap="round" stroke-linejoin="round"/>
<path d="M273.6 691.3 L213 717.6 M219.2 704.6 L213 717.6 L228.5 723.8" stroke="#1e1e1e" stroke-width="1.75" fill="none" stroke-linecap="round" stroke-linejoin="round"/>
<path d="M73.3 156.5 H61 Q50.5 156.5 50.5 167 V259 M50.5 292.4 V387 Q50.5 397.3 61 397.3 H72" stroke="#0a62c8" stroke-width="1.8" fill="none" stroke-linecap="round"/>
<path d="M480 155.4 H517 Q528.7 155.4 528.7 167 V176.5 M528.7 209.7 V230 Q528.7 241.3 517 241.3 H490" stroke="#0a62c8" stroke-width="1.8" fill="none" stroke-linecap="round"/>
<path d="M480 258.5 H517 Q528.5 258.5 528.5 270 V282.3 M528.5 315.8 V342.5 Q528.5 354.1 517 354.1 H494" stroke="#0a62c8" stroke-width="1.8" fill="none" stroke-linecap="round"/>
<path d="M549.5 258 H574.5 Q586.8 258 586.8 270 V455.9 M586.8 488.7 V677.5 Q586.8 689.6 574.5 689.6 H550" stroke="#0a62c8" stroke-width="1.8" fill="none" stroke-linecap="round"/>
<path d="M480 367.1 H505 Q517.8 367.1 517.8 380 V505.7 M517.8 538.9 V683 Q517.8 692.1 509 692.1 H494" stroke="#0a62c8" stroke-width="1.8" fill="none" stroke-linecap="round"/>
<path d="M423.7 365.7 H436 Q444.5 365.7 444.5 373.8 M444.5 407.3 V418 Q444.5 425.2 437 425.2 H433" stroke="#0a62c8" stroke-width="1.8" fill="none" stroke-linecap="round"/>
<path d="M431 441.5 H442.8 Q450 441.5 450.6 445.5 M451.8 477.9 V484.6 Q451.8 491.6 444.8 491.6 H440.2" stroke="#0a62c8" stroke-width="1.8" fill="none" stroke-linecap="round"/>
<path d="M430.2 510.9 H442.3 Q449.3 510.9 449.90000000000003 514.9 M451.3 547.3 V553.8 Q451.3 560.8 444.3 560.8 H439.2" stroke="#0a62c8" stroke-width="1.8" fill="none" stroke-linecap="round"/>
<path d="M433.9 579.6 H445.8 Q453 579.6 453.6 583.9 M454.8 616 V622.2 Q454.8 629.2 447.8 629.2 H442.9" stroke="#0a62c8" stroke-width="1.8" fill="none" stroke-linecap="round"/>
<path d="M437.6 641.4 H449.6 Q456.7 641.4 457.3 645.0999999999999 M458.6 677.4 V684.4 Q458.6 691.4 451.6 691.4 H446.6" stroke="#0a62c8" stroke-width="1.8" fill="none" stroke-linecap="round"/>
<path d="M83.90 397.3 L69.30 388.90 L71.70 397.3 L69.30 405.70 Z" fill="#0a62c8" stroke="#0a62c8" stroke-width="2.6" stroke-linejoin="round"/>
<path d="M477.10 241.2 L491.70 232.80 L489.30 241.2 L491.70 249.60 Z" fill="#0a62c8" stroke="#0a62c8" stroke-width="2.6" stroke-linejoin="round"/>
<path d="M481.80 354.1 L496.40 345.70 L494.00 354.1 L496.40 362.50 Z" fill="#0a62c8" stroke="#0a62c8" stroke-width="2.6" stroke-linejoin="round"/>
<path d="M538.70 689.6 L553.30 681.20 L550.90 689.6 L553.30 698.00 Z" fill="#0a62c8" stroke="#0a62c8" stroke-width="2.6" stroke-linejoin="round"/>
<path d="M481.80 692.1 L496.40 683.70 L494.00 692.1 L496.40 700.50 Z" fill="#0a62c8" stroke="#0a62c8" stroke-width="2.6" stroke-linejoin="round"/>
<path d="M421.30 425.3 L435.90 416.90 L433.50 425.3 L435.90 433.70 Z" fill="#0a62c8" stroke="#0a62c8" stroke-width="2.6" stroke-linejoin="round"/>
<path d="M428.50 491.6 L443.10 483.20 L440.70 491.6 L443.10 500.00 Z" fill="#0a62c8" stroke="#0a62c8" stroke-width="2.6" stroke-linejoin="round"/>
<path d="M427.50 560.8 L442.10 552.40 L439.70 560.8 L442.10 569.20 Z" fill="#0a62c8" stroke="#0a62c8" stroke-width="2.6" stroke-linejoin="round"/>
<path d="M431.20 629.2 L445.80 620.80 L443.40 629.2 L445.80 637.60 Z" fill="#0a62c8" stroke="#0a62c8" stroke-width="2.6" stroke-linejoin="round"/>
<path d="M434.90 691.4 L449.50 683.00 L447.10 691.4 L449.50 699.80 Z" fill="#0a62c8" stroke="#0a62c8" stroke-width="2.6" stroke-linejoin="round"/>
</svg></body></html>
